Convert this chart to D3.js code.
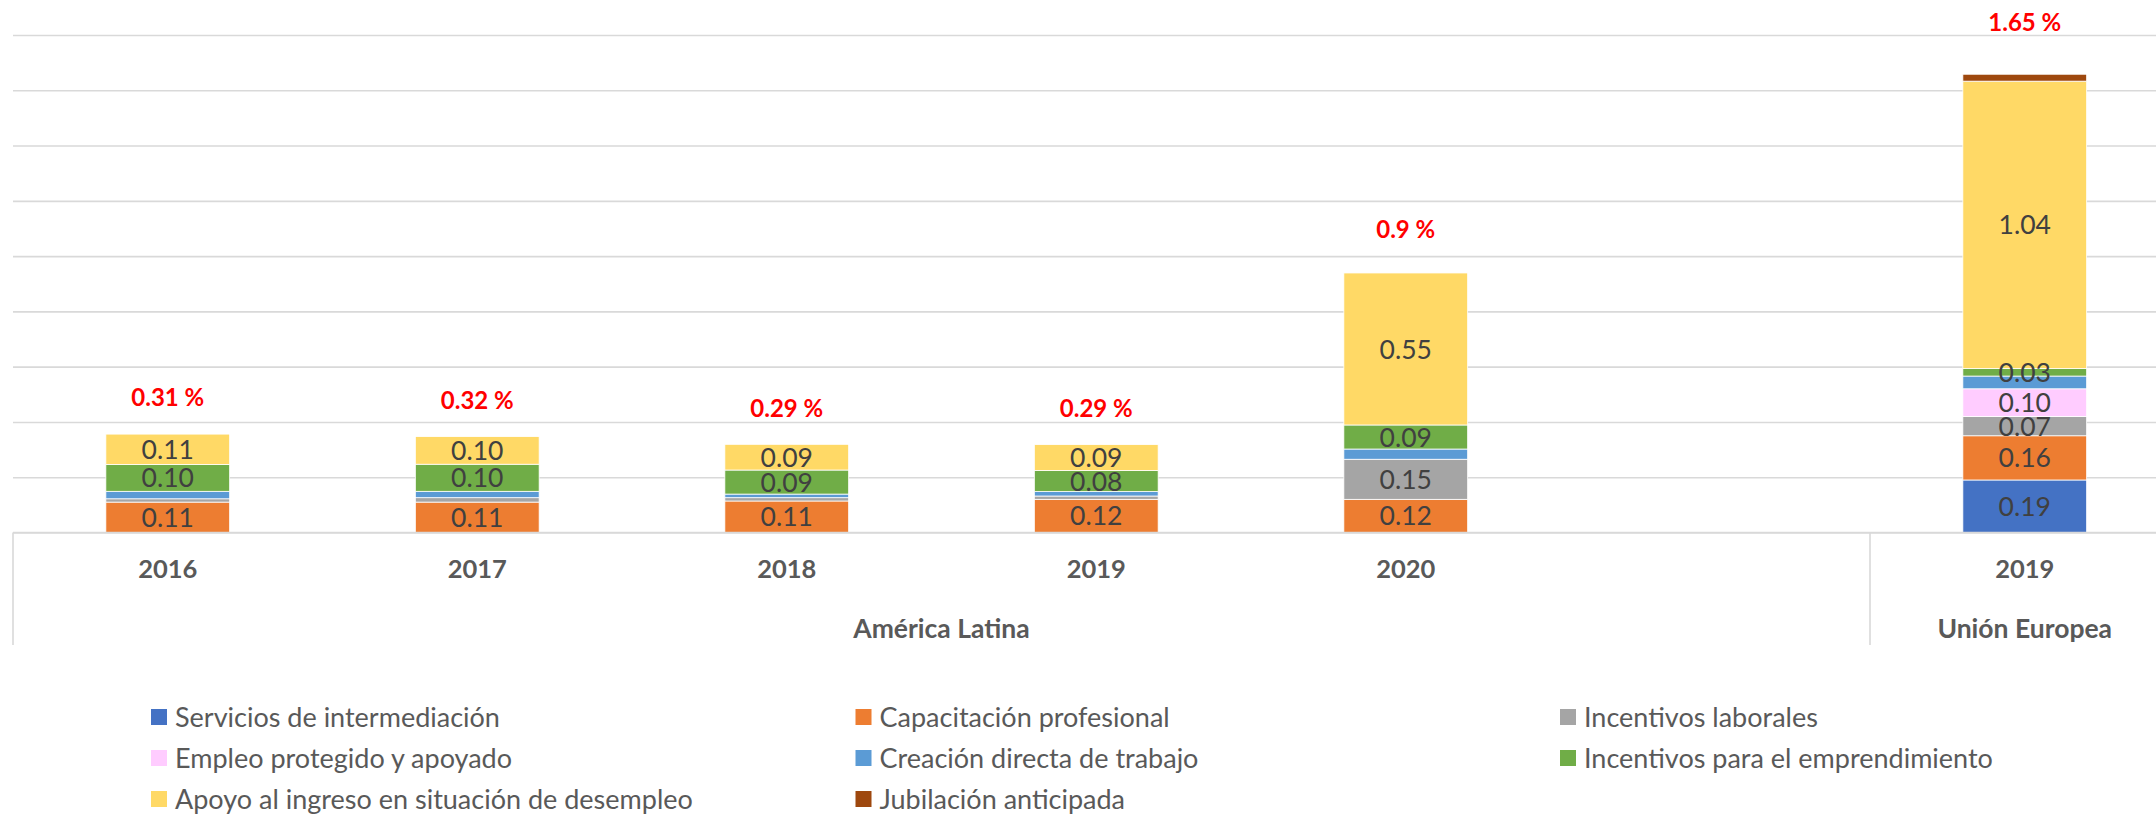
<!DOCTYPE html>
<html>
<head>
<meta charset="utf-8">
<script src="https://cdn.jsdelivr.net/npm/d3@7"></script>
<style>
	body { margin: 0; background: #fff; }
	svg { display: block; font-family: Lato, 'Open Sans', sans-serif; }
</style>
</head>
<body>
<script>
// categories (one empty slot between the two groups)
const slots = ['al2016', 'al2017', 'al2018', 'al2019', 'al2020', 'alBlank', 'ue2019']
const yearLabels = ['2016', '2017', '2018', '2019', '2020', '', '2019']
const groupNames = ['América Latina', 'Unión Europea']
const groupSizes = [6, 1]
const totalLabels = ['0.31 %', '0.32 %', '0.29 %', '0.29 %', '0.9 %', '', '1.65 %']
const yTicks = [0, 0.2, 0.4, 0.6, 0.8, 1.0, 1.2, 1.4, 1.6, 1.8]

// series, bottom to top
const seriesNames = [
	'Servicios de intermediación',
	'Capacitación profesional',
	'Incentivos laborales',
	'Empleo protegido y apoyado',
	'Creación directa de trabajo',
	'Incentivos para el emprendimiento',
	'Apoyo al ingreso en situación de desempleo',
	'Jubilación anticipada'
]
const servicios = [0, 0, 0, 0, 0, 0, 0.19]
const capacitacion = [0.11, 0.11, 0.114, 0.12, 0.12, 0, 0.16]
const incentivosLab = [0.012, 0.016, 0.012, 0.012, 0.145, 0, 0.07]
const empleoProt = [0, 0, 0, 0, 0, 0, 0.10]
const creacion = [0.027, 0.023, 0.013, 0.016, 0.037, 0, 0.046]
const emprendimiento = [0.097, 0.098, 0.087, 0.076, 0.087, 0, 0.027]
const apoyo = [0.11, 0.10, 0.093, 0.094, 0.55, 0, 1.04]
const jubilacion = [0, 0, 0, 0, 0, 0, 0.025]
const labelled = [true, true, true, true, false, true, true, false]

const colors = ['#4472C4', '#ED7D31', '#A5A5A5', '#FFCCFF', '#5B9BD5', '#70AD47', '#FFD966', '#9E480E']

const seriesValues = [servicios, capacitacion, incentivosLab, empleoProt, creacion, emprendimiento, apoyo, jubilacion]

// table for d3.stack
const table = slots.map((s, i) => {
	const row = { slot: s }
	seriesNames.forEach((n, k) => { row[n] = seriesValues[k][i] })
	return row
})

const svgw = 2156
const svgh = 817
const left = 13
const slotW = 309.5
const base = 532.5

const svg = d3.select('body').append('svg').attr('width', svgw).attr('height', svgh)

const xScale = d3.scaleBand()
	.domain(slots)
	.range([left, left + slots.length * slotW])
	.paddingInner(0.6)
	.paddingOuter(0.3)

const yScale = d3.scaleLinear()
	.domain([0, 1.8])
	.range([base, 35])

// gridlines
svg.append('g')
	.attr('transform', `translate(${left},0)`)
	.call(d3.axisLeft(yScale).tickValues(yTicks).tickSize(-(slots.length * slotW)).tickFormat(''))
	.call(g => g.select('.domain').remove())
	.call(g => g.selectAll('line').attr('stroke', '#D9D9D9').attr('stroke-width', 1.6))

// bars
const stacked = d3.stack().keys(seriesNames)(table)

const layers = svg.selectAll('g.layer')
	.data(stacked)
	.enter()
	.append('g')
	.attr('class', 'layer')
	.attr('fill', (d, i) => colors[i])

layers.selectAll('rect')
	.data(d => d)
	.enter()
	.filter(d => d[1] - d[0] > 0)
	.append('rect')
	.attr('x', d => xScale(d.data.slot))
	.attr('width', xScale.bandwidth())
	.attr('y', d => yScale(d[1]))
	.attr('height', d => yScale(d[0]) - yScale(d[1]))
	.attr('stroke', '#fff')
	.attr('stroke-width', 0.8)

// value labels
stacked.forEach((layer, k) => {
	if (!labelled[k]) return
	svg.append('g').selectAll('text')
		.data(layer.filter(d => d[1] - d[0] >= 0.02))
		.enter()
		.append('text')
		.attr('x', d => xScale(d.data.slot) + xScale.bandwidth() / 2)
		.attr('y', d => yScale((d[0] + d[1]) / 2))
		.attr('dy', '0.36em')
		.attr('text-anchor', 'middle')
		.attr('font-size', 26.5)
		.attr('fill', '#404040')
		.text(d => d3.format('.2f')(d[1] - d[0]))
})

// totals in red
const tops = table.map(r => d3.sum(seriesNames, n => r[n]))
svg.append('g').selectAll('text')
	.data(slots)
	.enter()
	.append('text')
	.attr('x', d => xScale(d) + xScale.bandwidth() / 2)
	.attr('y', (d, i) => yScale(tops[i]) - 32 - 12 * tops[i])
	.attr('dy', '0.36em')
	.attr('text-anchor', 'middle')
	.attr('font-size', 24)
	.attr('font-weight', 700)
	.attr('fill', '#FF0000')
	.text((d, i) => totalLabels[i])

// category axis: years
svg.append('g')
	.attr('transform', `translate(0,${base})`)
	.call(d3.axisBottom(xScale).tickSize(0).tickPadding(0).tickFormat((d, i) => yearLabels[i]))
	.call(g => g.select('.domain').remove())
	.call(g => g.selectAll('text')
		.attr('y', 36)
		.attr('dy', '0.36em')
		.attr('font-family', 'Lato, sans-serif')
		.attr('font-size', 25.5)
		.attr('font-weight', 700)
		.attr('fill', '#595959'))

// base line
svg.append('line')
	.attr('x1', left).attr('x2', svgw)
	.attr('y1', base).attr('y2', base)
	.attr('stroke', '#D9D9D9').attr('stroke-width', 1.6)

// groups + separators
let start = 0
groupNames.forEach((name, gi) => {
	const first = slots[start]
	const last = slots[start + groupSizes[gi] - 1]
	const x0 = xScale(first) - xScale.step() * xScale.paddingOuter()
	const x1 = xScale(last) + xScale.bandwidth() + xScale.step() * xScale.paddingOuter()
	svg.append('line')
		.attr('x1', x0).attr('x2', x0)
		.attr('y1', base).attr('y2', 645)
		.attr('stroke', '#D9D9D9').attr('stroke-width', 1.6)
	svg.append('text')
		.attr('x', (x0 + x1) / 2)
		.attr('y', 628)
		.attr('dy', '0.36em')
		.attr('text-anchor', 'middle')
		.attr('font-size', 26.5)
		.attr('font-weight', 700)
		.attr('fill', '#595959')
		.text(name)
	start += groupSizes[gi]
})

// legend
const legend = svg.append('g')
const items = legend.selectAll('g')
	.data(seriesNames)
	.enter()
	.append('g')
	.attr('transform', (d, i) => `translate(${151 + (i % 3) * 704.5},${717 + Math.floor(i / 3) * 41})`)

items.append('rect')
	.attr('x', 0).attr('y', -8)
	.attr('width', 16).attr('height', 16)
	.attr('fill', (d, i) => colors[i])

items.append('text')
	.attr('x', 24)
	.attr('dy', '0.36em')
	.attr('font-size', 27)
	.attr('fill', '#595959')
	.text(d => d)
</script>
</body>
</html>
